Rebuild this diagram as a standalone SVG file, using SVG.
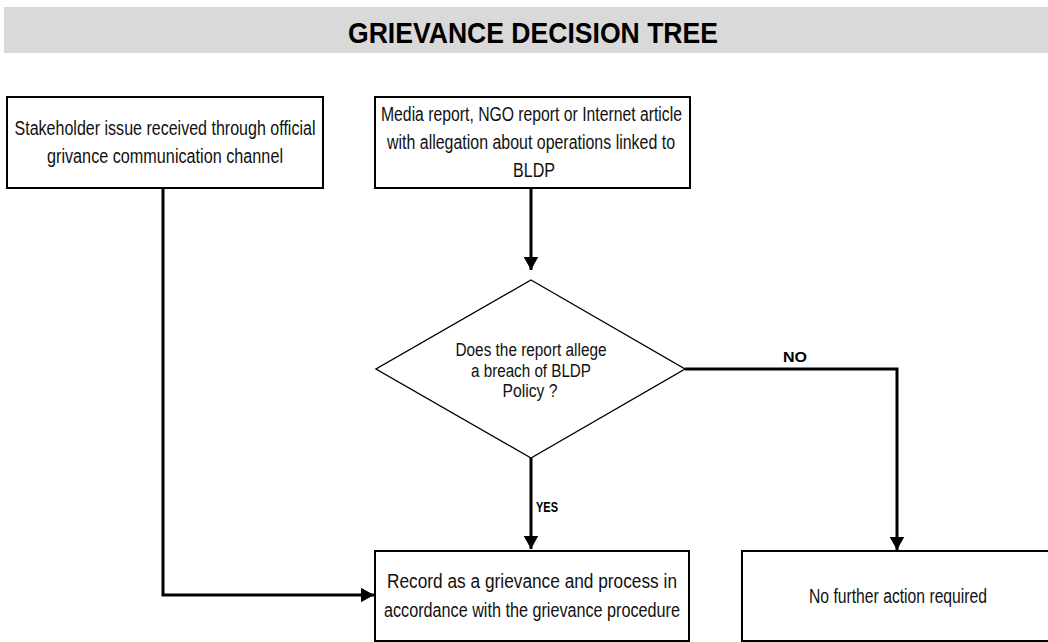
<svg xmlns="http://www.w3.org/2000/svg" width="1048" height="642" viewBox="0 0 1048 642">
<style>
.box{fill:#fff;stroke:#000;stroke-width:2}
.dia{fill:#fff;stroke:#000;stroke-width:1.4}
.t{font-family:"Liberation Sans",Arial,sans-serif;font-size:19.5px;fill:#111;text-anchor:middle}
.d{font-family:"Liberation Sans",Arial,sans-serif;font-size:18px;fill:#111;text-anchor:middle}
.lbl{font-family:"Liberation Sans",Arial,sans-serif;font-size:15px;font-weight:bold;fill:#000}
.title{font-family:"Liberation Sans",Arial,sans-serif;font-size:30px;font-weight:bold;fill:#000;text-anchor:middle}
.c{fill:none;stroke:#000;stroke-width:3}
</style>
<defs>
<marker id="arr" viewBox="0 0 9 10" refX="9" refY="5" markerWidth="4.5" markerHeight="5" orient="auto" markerUnits="strokeWidth">
<path d="M0,0 L9,5 L0,10 z" fill="#000"/>
</marker>
</defs>
<rect width="1048" height="642" fill="#fff"/>
<g id="title">
<rect x="4" y="7" width="1046" height="46" fill="#d9d9d9"/>
<text class="title" x="533" y="43" textLength="370" lengthAdjust="spacingAndGlyphs">GRIEVANCE DECISION TREE</text>
</g>
<g id="connectors">
<path class="c" d="M163,188 V595 H374" marker-end="url(#arr)"/>
<path class="c" d="M531,188 V270" marker-end="url(#arr)"/>
<path class="c" d="M531,458 V549" marker-end="url(#arr)"/>
<path class="c" d="M685,369 H897 V550" marker-end="url(#arr)"/>
<text class="lbl" x="783" y="362" textLength="24" lengthAdjust="spacingAndGlyphs">NO</text>
<text class="lbl" x="536" y="512" textLength="22" lengthAdjust="spacingAndGlyphs">YES</text>
</g>
<g id="stakeholder">
<rect class="box" x="7" y="97" width="316" height="91"/>
<text class="t" x="165" y="135" textLength="301" lengthAdjust="spacingAndGlyphs">Stakeholder issue received through official</text>
<text class="t" x="165" y="163" textLength="236" lengthAdjust="spacingAndGlyphs">grivance communication channel</text>
</g>
<g id="media">
<rect class="box" x="375" y="97" width="315" height="91"/>
<text class="t" x="531.5" y="121" textLength="301" lengthAdjust="spacingAndGlyphs">Media report, NGO report or Internet article</text>
<text class="t" x="531" y="149" textLength="288" lengthAdjust="spacingAndGlyphs">with allegation about operations linked to</text>
<text class="t" x="534" y="177" textLength="42" lengthAdjust="spacingAndGlyphs">BLDP</text>
</g>
<g id="decision">
<path class="dia" d="M531,280 L685,369 L531,458 L376,369 Z"/>
<text class="d" x="531" y="356" textLength="151" lengthAdjust="spacingAndGlyphs">Does the report allege</text>
<text class="d" x="531" y="377" textLength="120" lengthAdjust="spacingAndGlyphs">a breach of BLDP</text>
<text class="d" x="530" y="397" textLength="55" lengthAdjust="spacingAndGlyphs">Policy ?</text>
</g>
<g id="record">
<rect class="box" x="375" y="551" width="314" height="90"/>
<text class="t" x="532" y="588" textLength="290" lengthAdjust="spacingAndGlyphs">Record as a grievance and process in</text>
<text class="t" x="532" y="617" textLength="296" lengthAdjust="spacingAndGlyphs">accordance with the grievance procedure</text>
</g>
<g id="noaction">
<rect class="box" x="742" y="551" width="320" height="90"/>
<text class="t" x="898" y="603" textLength="178" lengthAdjust="spacingAndGlyphs">No further action required</text>
</g>
</svg>
